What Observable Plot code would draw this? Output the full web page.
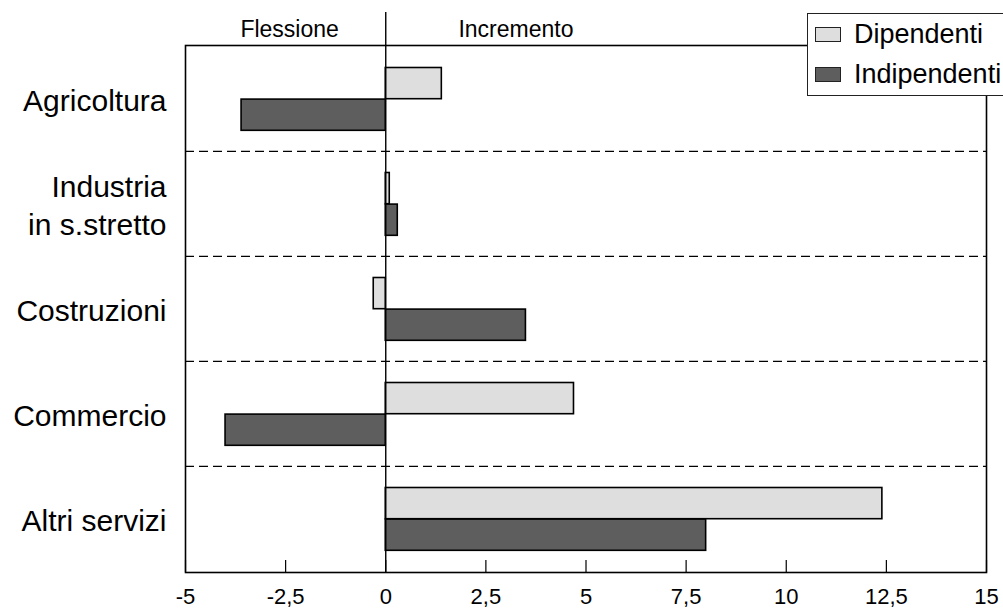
<!DOCTYPE html>
<html>
<head>
<meta charset="utf-8">
<script src="https://cdn.jsdelivr.net/npm/d3@7"></script>
<script src="https://cdn.jsdelivr.net/npm/@observablehq/plot@0.6"></script>
<style>
  html, body { margin: 0; padding: 0; background: #fff; overflow: hidden; }
  #wrap { position: relative; width: 1003px; height: 611px; overflow: hidden; font-family: "Liberation Sans", Arial, sans-serif; }
  #legend { position: absolute; left: 807px; top: 13px; width: 240px; height: 83px; background: #fff; border: 1.5px solid #222; box-sizing: border-box; }
  .item { position: absolute; left: 7px; display: flex; align-items: center; font-size: 27px; color: #000; }
  .sw { width: 26px; height: 15px; border: 1.3px solid #222; box-sizing: border-box; margin-right: 13px; }
</style>
</head>
<body>
<div id="wrap">
  <div id="chart"></div>
  <div id="legend"></div>
</div>
<script>
const categories = ["Agricoltura", "Industria\nin s.stretto", "Costruzioni", "Commercio", "Altri servizi"];
const dipendenti = [1.4, 0.1, -0.3, 4.7, 12.4];
const indipendenti = [-3.6, 0.3, 3.5, -4.0, 8.0];
const seriesNames = ["Dipendenti", "Indipendenti"];
const seriesColors = ["#dedede", "#5e5e5e"];
const xTicks = [-5, -2.5, 0, 2.5, 5, 7.5, 10, 12.5, 15];
const sideLabels = [{label: "Flessione", x: -2.4}, {label: "Incremento", x: 3.25}];

const W = 1003, H = 611, mT = 45, mB = 39, mL = 185, mR = 17;
const plotH = H - mT - mB;
const band = plotH / categories.length;

const dipData = categories.map((c, i) => ({cat: c, v: dipendenti[i]}));
const indData = categories.map((c, i) => ({cat: c, v: indipendenti[i]}));

const chart = Plot.plot({
  width: W, height: H,
  marginTop: mT, marginBottom: mB, marginLeft: mL, marginRight: mR,
  style: {fontFamily: "Liberation Sans, Arial, sans-serif", color: "#000", background: "#fff"},
  x: {domain: [-5, 15]},
  y: {domain: categories, padding: 0},
  marks: [
    Plot.ruleY(categories.slice(1), {y: d => d, dy: -band / 2, stroke: "#000", strokeWidth: 1.2, strokeDasharray: "9,5"}),
    Plot.barX(dipData, {x1: 0, x2: "v", y: "cat", fill: seriesColors[0], stroke: "#000", strokeWidth: 1.6, insetTop: 21.5, insetBottom: band - 21.5 - 31.6}),
    Plot.barX(indData, {x1: 0, x2: "v", y: "cat", fill: seriesColors[1], stroke: "#000", strokeWidth: 1.6, insetTop: 21.5 + 31.6, insetBottom: band - 21.5 - 63.2}),
    Plot.ruleX(xTicks, {stroke: "#000", strokeWidth: 1.2, insetTop: plotH - 12}),
    Plot.ruleX([0], {stroke: "#000", strokeWidth: 1.4, insetTop: -33}),
    Plot.frame({stroke: "#000", strokeWidth: 1.6}),
    Plot.text(sideLabels, {x: "x", text: "label", frameAnchor: "top", dy: -16, lineAnchor: "middle", fontSize: 23, fill: "#000"}),
    Plot.axisX(xTicks, {tickSize: 0, tickPadding: 16, fontSize: 22, tickFormat: d => String(d).replace(".", ","), fill: "#000"}),
    Plot.axisY({tickSize: 0, tickPadding: 19, fontSize: 30, lineHeight: 1.25, fill: "#000", label: null})
  ]
});
document.getElementById("chart").appendChild(chart);

const legend = document.getElementById("legend");
seriesNames.forEach((name, i) => {
  const it = document.createElement("div");
  it.className = "item";
  it.style.top = (i === 0 ? 5 : 45) + "px";
  const sw = document.createElement("div");
  sw.className = "sw";
  sw.style.background = seriesColors[i];
  const t = document.createElement("span");
  t.textContent = name;
  it.appendChild(sw); it.appendChild(t);
  legend.appendChild(it);
});
</script>
</body>
</html>
